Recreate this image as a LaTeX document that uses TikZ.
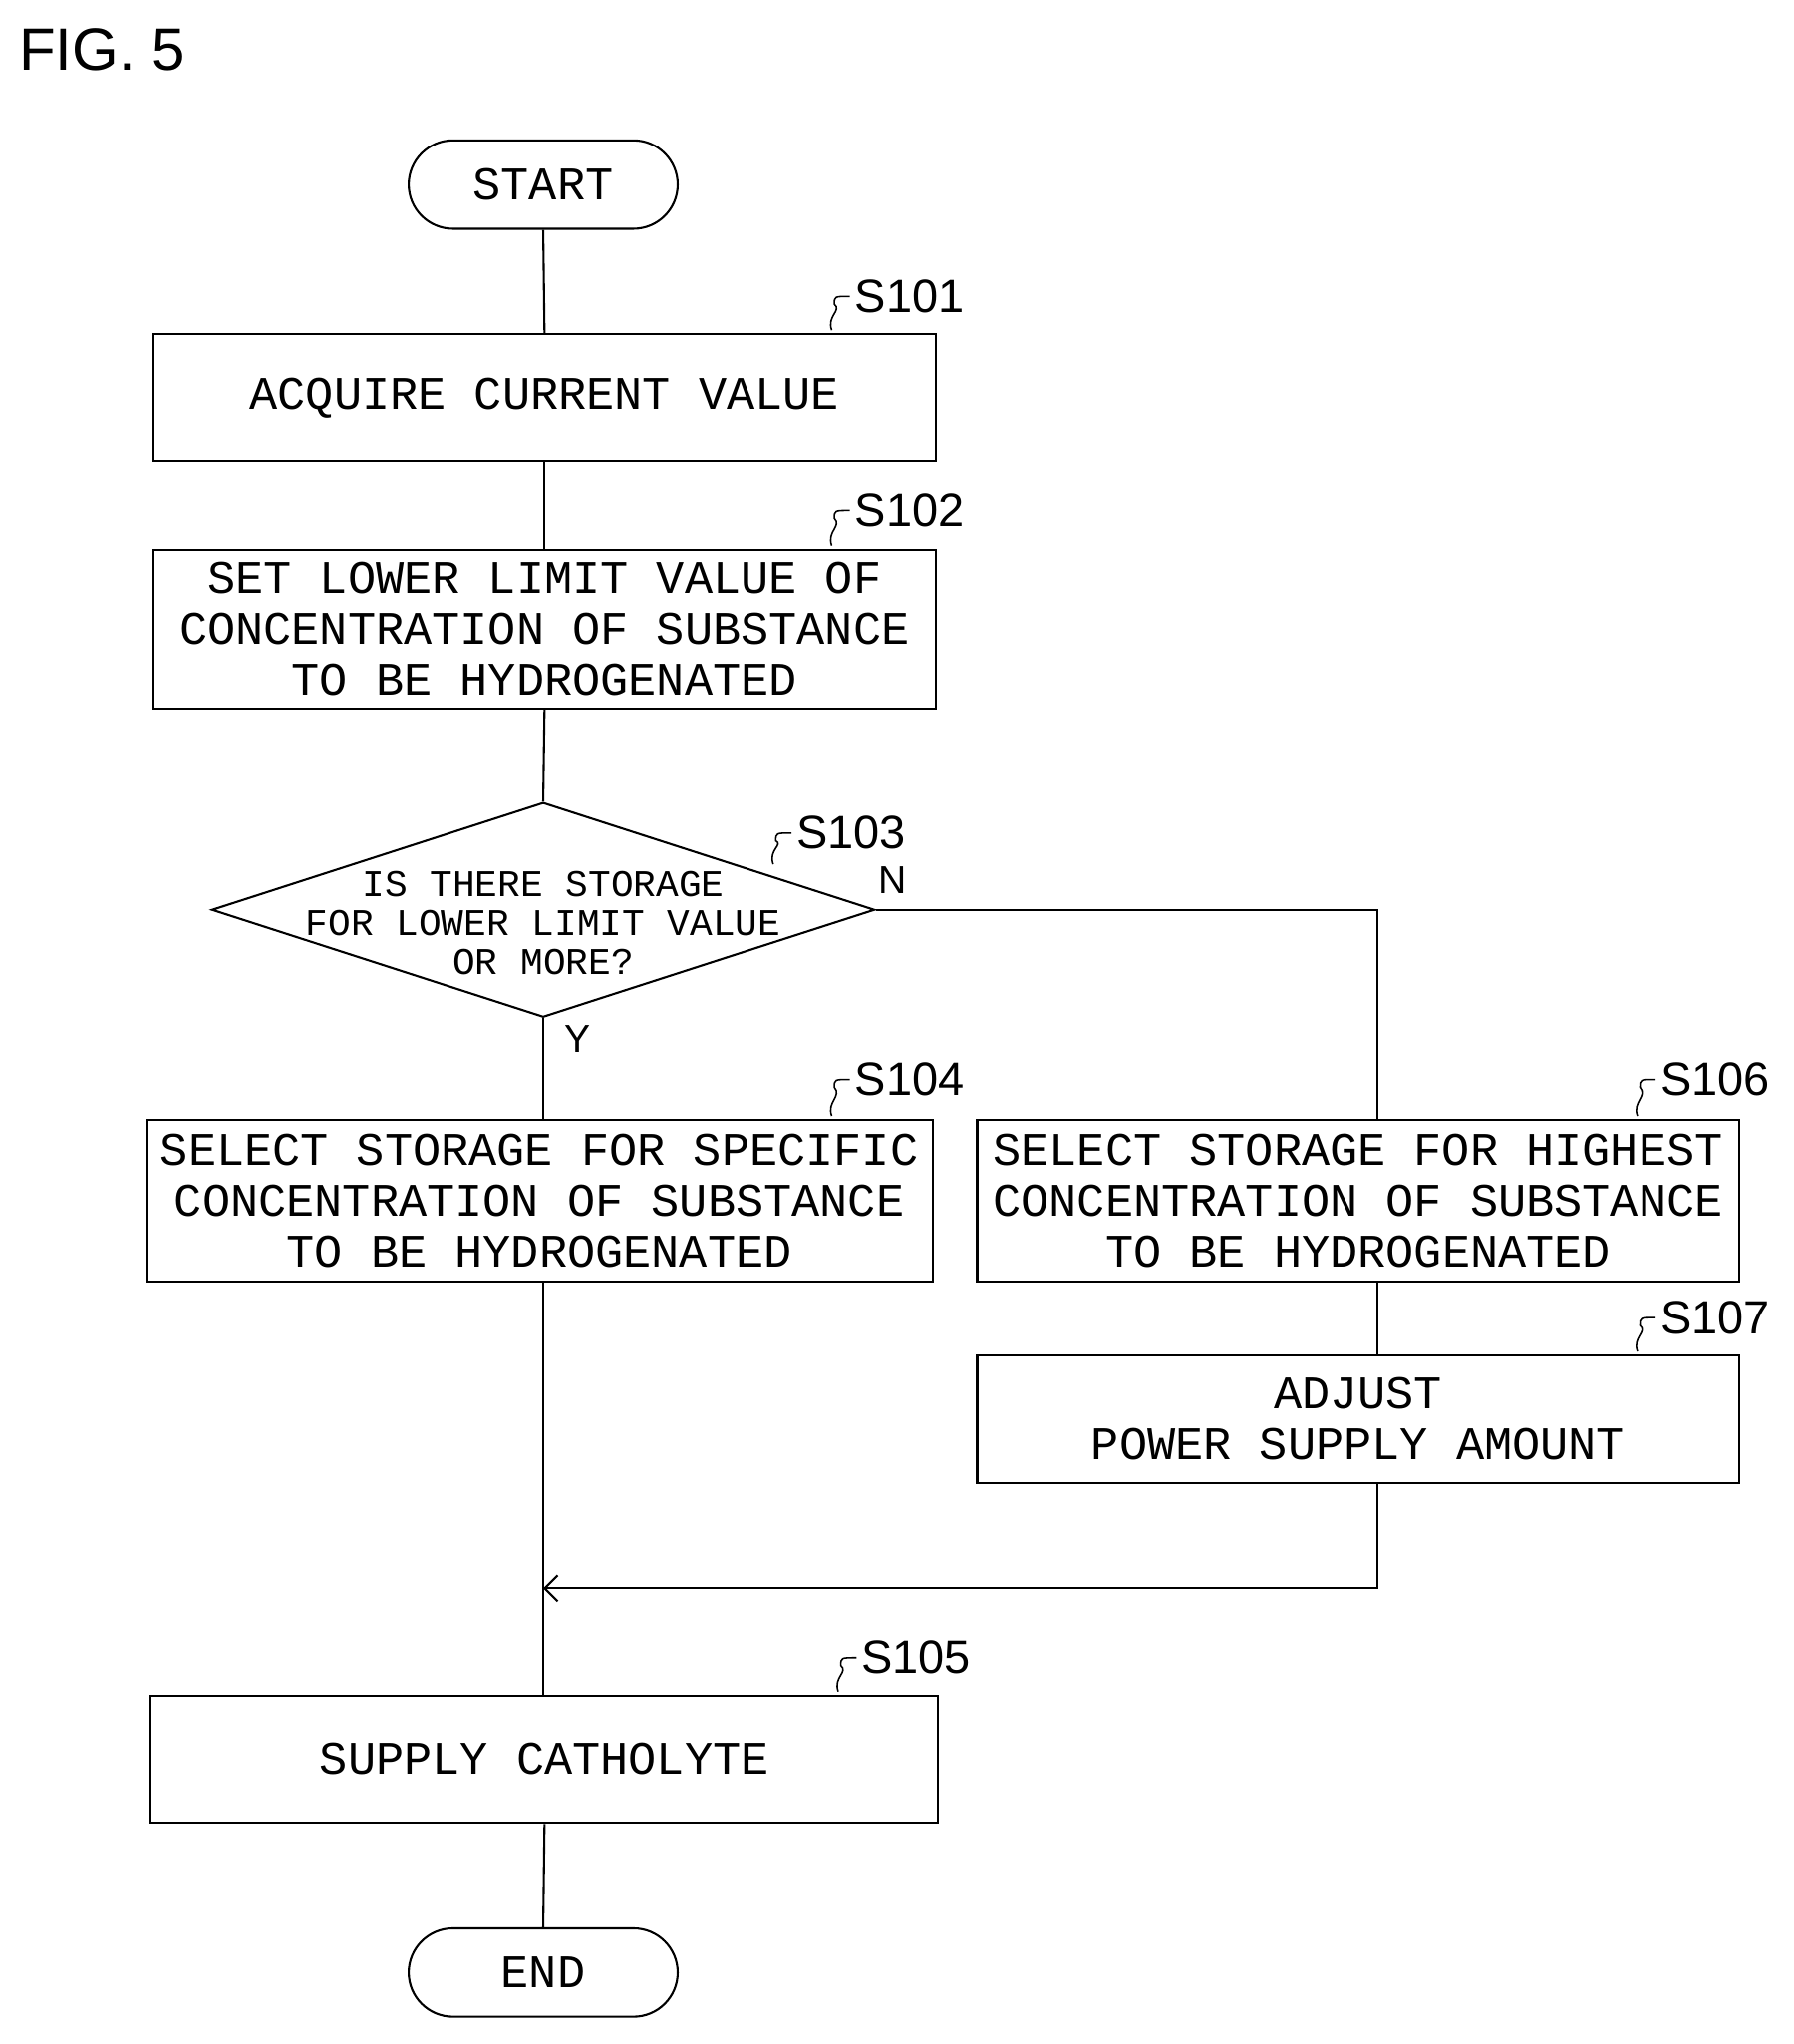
\documentclass[tikz,border=0pt]{standalone}
\usepackage{fontspec}
\setmainfont{Liberation Sans}
\newfontfamily\boxfont{Liberation Mono}
\usetikzlibrary{shapes.geometric,shapes.misc,arrows.meta}
\begin{document}
\begin{tikzpicture}[x=1pt,y=-1pt,line width=1.6pt,
  box/.style={draw,rectangle,inner sep=0,align=center,font=\boxfont\fontsize{36}{39}\selectfont},
  term/.style={draw,rounded rectangle,inner sep=0,minimum width=207,minimum height=68,font=\boxfont\fontsize{36}{39}\selectfont},
  lab/.style={font=\fontsize{36}{40}\selectfont,anchor=west,inner sep=0},
  curl/.style={line width=1.2pt}]
\useasboundingbox (0,0) rectangle (1380,1573);
\node[anchor=west,inner sep=0,font=\fontsize{46}{50}\selectfont] (fig) at (14,38) {FIG. 5};
\node[term] (start) at (418,142) {START};
\node[box,minimum width=602,minimum height=98] (s101) at (419,306) {ACQUIRE CURRENT VALUE};
\node[box,minimum width=602,minimum height=122] (s102) at (419,484) {SET LOWER LIMIT VALUE OF\\CONCENTRATION OF SUBSTANCE\\TO BE HYDROGENATED};
\node[draw,diamond,inner sep=0,minimum width=510,minimum height=165,aspect=3.09] (s103) at (418,700) {};
\node[align=center,inner sep=0,font=\boxfont\fontsize{29}{30}\selectfont] (s103t) at (418,710) {IS THERE STORAGE\\FOR LOWER LIMIT VALUE\\OR MORE?};
\node[box,minimum width=605,minimum height=124] (s104) at (415,924) {SELECT STORAGE FOR SPECIFIC\\CONCENTRATION OF SUBSTANCE\\TO BE HYDROGENATED};
\node[box,minimum width=586,minimum height=124] (s106) at (1045,924) {SELECT STORAGE FOR HIGHEST\\CONCENTRATION OF SUBSTANCE\\TO BE HYDROGENATED};
\node[box,minimum width=586,minimum height=98] (s107) at (1045,1092) {ADJUST\\POWER SUPPLY AMOUNT};
\node[box,minimum width=606,minimum height=98] (s105) at (419,1354) {SUPPLY CATHOLYTE};
\node[term] (end) at (418,1518) {END};
\coordinate (m) at (418,1222);
\coordinate (c1) at (1060,700);
\coordinate (c2) at (1060,1222);
% labels
\node[lab] (l101) at (657,228) {S101};
\node[lab] (l102) at (657,393) {S102};
\node[lab] (l103) at (612,641) {S103};
\node[lab] (l104) at (657,831) {S104};
\node[lab] (l106) at (1277,831) {S106};
\node[lab] (l107) at (1277,1014) {S107};
\node[lab] (l105) at (662,1276) {S105};
\node[lab,font=\fontsize{30}{30}\selectfont] (ln) at (675,677) {N};
\node[lab,font=\fontsize{30}{30}\selectfont] (ly) at (434,800) {Y};
\foreach \a/\b/\c in {640/257/228,640/423/393,595/668/641,640/862/831,1260/862/831,1260/1043/1014,645/1305/1276}
  \draw[curl] (\a,\b-3) .. controls (\a-4,\b-14) and (\a+8,\b-18) .. (\a+2,\c+6) .. controls (\a+2,\c) .. (\a+14,\c);
% connectors
\draw (start.south) -- (s101.north);
\draw (s101.south) -- (s102.north);
\draw (s102.south) -- (s103.north);
\draw (s103.south) -- (418,862);
\draw (418,986) -- (418,1305);
\draw (s105.south) -- (end.north);
\draw (s103.east) -- (c1) -- (s106.north -| c1);
\draw (s106.south -| c1) -- (s107.north -| c1);
\draw[-{Straight Barb[length=10,width=20,line width=1.6pt]}] (s107.south -| c2) -- (c2) -- (m);
\end{tikzpicture}
\end{document}
